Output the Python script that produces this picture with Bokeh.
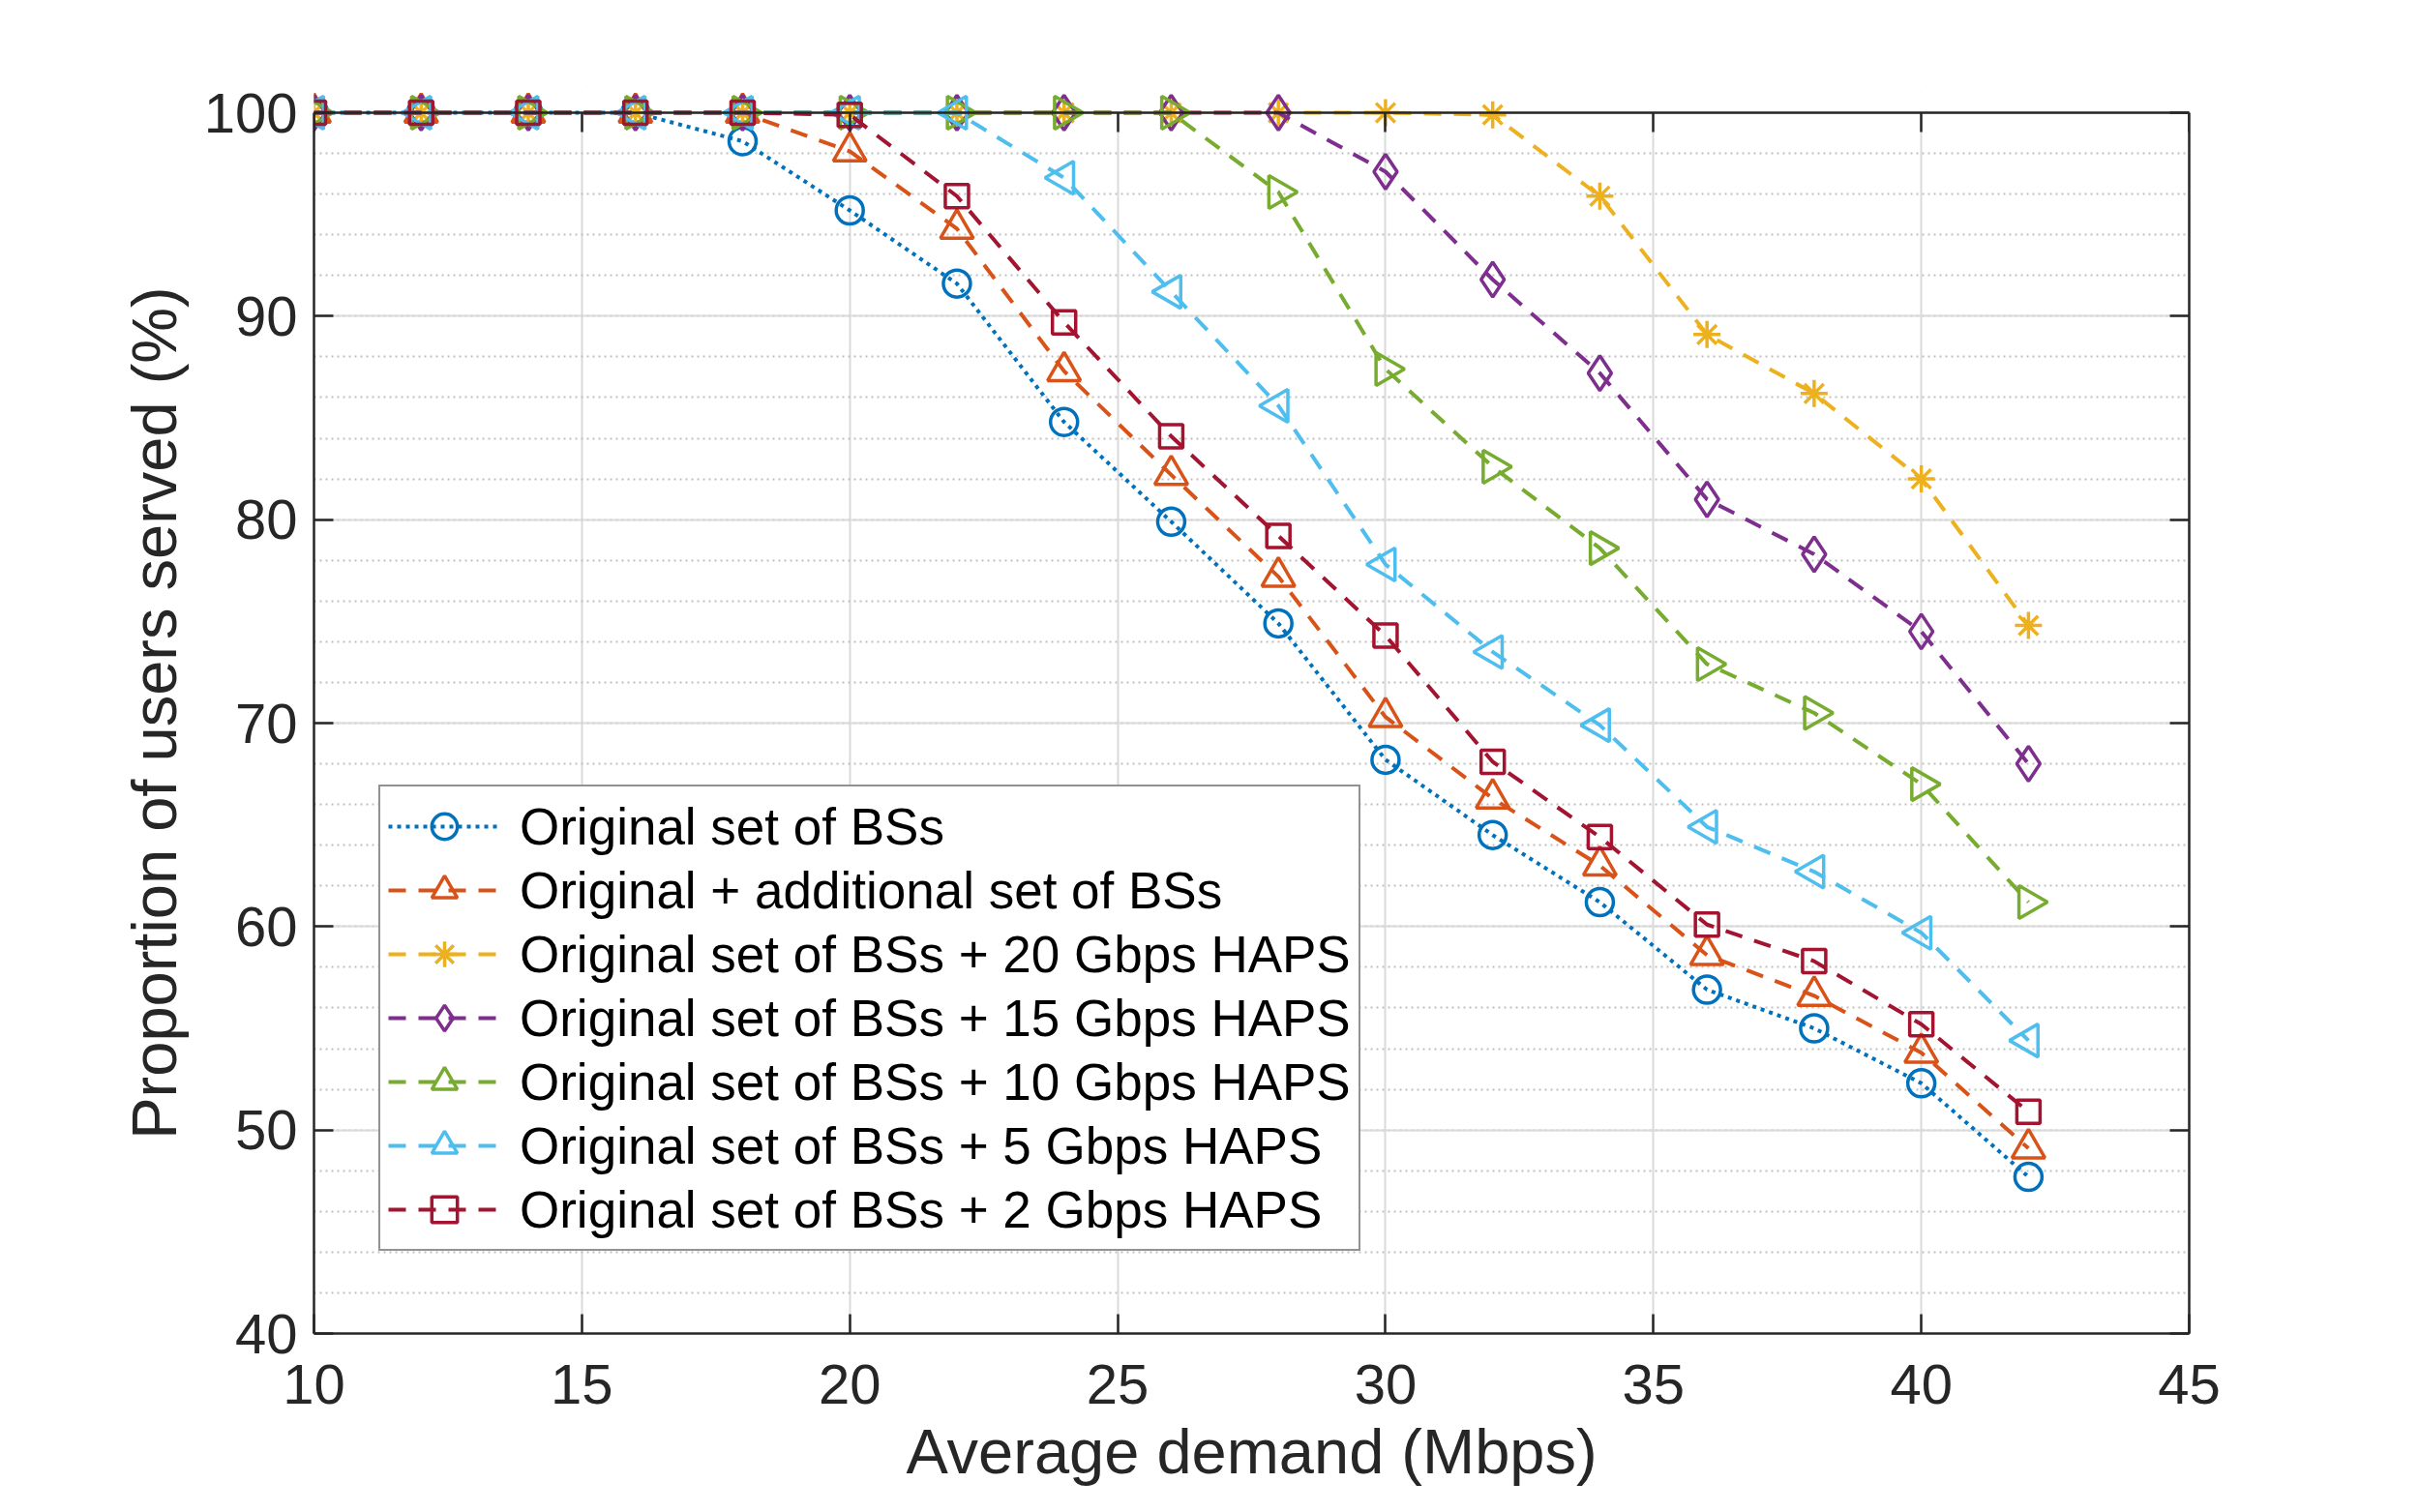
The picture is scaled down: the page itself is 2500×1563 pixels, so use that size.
from bokeh.plotting import figure
from bokeh.models import (LinearAxis, FixedTicker, Range1d, CustomJSTickFormatter, BoxAnnotation)
from bokeh.embed import file_html
from bokeh.resources import INLINE
import math

# ---------------- data ----------------
demand = [10, 12, 14, 16, 18, 20, 22, 24, 26, 28, 30, 32, 34, 36, 38, 40, 42]

original = [100, 100, 100, 100, 98.6, 95.2, 91.6, 84.8, 79.9, 74.9, 68.2, 64.5, 61.2, 56.9, 55.0, 52.3, 47.7]
orig_add = [100, 100, 100, 100, 100, 98.1, 94.3, 87.3, 82.2, 77.2, 70.3, 66.3, 63.0, 58.6, 56.6, 53.8, 49.1]
haps20 = [100, 100, 100, 100, 100, 100, 100, 100, 100, 100, 100, 99.9, 95.9, 89.1, 86.2, 82.0, 74.8]
haps15 = [100, 100, 100, 100, 100, 100, 100, 100, 100, 100, 97.1, 91.8, 87.2, 81.0, 78.3, 74.5, 68.0]
haps10 = [100, 100, 100, 100, 100, 100, 100, 100, 100, 96.1, 87.4, 82.6, 78.6, 72.9, 70.5, 67.0, 61.2]
haps5 = [100, 100, 100, 100, 100, 100, 100, 96.8, 91.2, 85.6, 77.8, 73.5, 69.9, 64.9, 62.7, 59.7, 54.4]
haps2 = [100, 100, 100, 100, 100, 99.9, 95.9, 89.7, 84.1, 79.2, 74.3, 68.1, 64.4, 60.1, 58.3, 55.2, 50.9]

labels = [
    "Original set of BSs",
    "Original + additional set of BSs",
    "Original set of BSs + 20 Gbps HAPS",
    "Original set of BSs + 15 Gbps HAPS",
    "Original set of BSs + 10 Gbps HAPS",
    "Original set of BSs + 5 Gbps HAPS",
    "Original set of BSs + 2 Gbps HAPS",
]
series = [original, orig_add, haps20, haps15, haps10, haps5, haps2]
colors = ["#0072BD", "#D95319", "#EDB120", "#7E2F8E", "#77AC30", "#4DBEEE", "#A2142F"]
markers = ["circle", "triangle", "asterisk", "diamond", "triangle", "triangle", "square"]
angles = [0, 0, 0, 0, -math.pi / 2, math.pi / 2, 0]
sizes = [28, 34, 28, 36, 34, 34, 24]
dashes = ["4 5", "18 13", "18 13", "18 13", "18 13", "18 13", "18 13"]

x_ticks = [10, 15, 20, 25, 30, 35, 40, 45]
y_ticks = [40, 50, 60, 70, 80, 90, 100]
y_minor = [v for v in range(40, 101, 2)]
y_min, y_max = 40, 100

FONT = "Liberation Sans"
AX = "#262626"

# frame is extended one unit above 100 so that markers on the top edge are not clipped
p = figure(width=2484, height=1547, output_backend="svg", toolbar_location=None,
           x_range=Range1d(10, 45), y_range=Range1d(y_min, y_max + 1.0),
           min_border_left=324, min_border_right=222, min_border_top=95, min_border_bottom=169,
           background_fill_color="white", border_fill_color="white")

p.outline_line_color = None

for ax in [p.xaxis[0], p.yaxis[0]]:
    ax.axis_line_color = AX
    ax.axis_line_width = 2.5
    ax.major_tick_line_color = AX
    ax.major_tick_line_width = 2.5
    ax.major_tick_in = 20
    ax.major_tick_out = 0
    ax.minor_tick_line_color = None
    ax.major_label_text_font = FONT
    ax.major_label_text_font_size = "58px"
    ax.major_label_text_color = AX
    ax.axis_label_text_font = FONT
    ax.axis_label_text_font_size = "65px"
    ax.axis_label_text_font_style = "normal"
    ax.axis_label_text_color = AX

p.xaxis[0].ticker = FixedTicker(ticks=x_ticks)
p.yaxis[0].ticker = FixedTicker(ticks=y_ticks, minor_ticks=y_minor)
p.yaxis[0].bounds = (y_min, y_max)
p.xaxis[0].axis_label = "Average demand (Mbps)"
p.yaxis[0].axis_label = "Proportion of users served (%)"
p.xaxis[0].major_label_standoff = 32
p.yaxis[0].major_label_standoff = 13
p.xaxis[0].axis_label_standoff = 10
p.yaxis[0].axis_label_standoff = 12

blank = CustomJSTickFormatter(code="return ''")
top = LinearAxis(ticker=FixedTicker(ticks=x_ticks), formatter=blank, fixed_location=y_max)
right = LinearAxis(ticker=FixedTicker(ticks=y_ticks), formatter=blank, bounds=(y_min, y_max))
for ax in [top, right]:
    ax.axis_line_color = AX
    ax.axis_line_width = 2.5
    ax.major_tick_line_color = AX
    ax.major_tick_line_width = 2.5
    ax.major_tick_in = 20
    ax.major_tick_out = 0
    ax.minor_tick_line_color = None
    ax.major_label_text_font_size = "1px"
p.add_layout(top, "above")
p.add_layout(right, "right")

p.xgrid.ticker = FixedTicker(ticks=x_ticks)
p.ygrid.ticker = FixedTicker(ticks=y_ticks, minor_ticks=y_minor)
p.xgrid.grid_line_color = "#dadada"
p.xgrid.grid_line_width = 2
p.ygrid.grid_line_color = "#dadada"
p.ygrid.grid_line_width = 2
p.ygrid.minor_grid_line_color = "#c0c0c0"
p.ygrid.minor_grid_line_width = 2
p.ygrid.minor_grid_line_dash = "2 4"

# white strip above the top edge (hides the grid there)
p.add_layout(BoxAnnotation(bottom=y_max, fill_color="white", fill_alpha=1.0,
                           line_color=None, level="underlay"))

for ys, lab, col, mk, ang, sz, ds in zip(series, labels, colors, markers, angles, sizes, dashes):
    p.line(demand, ys, line_color=col, line_width=4, line_dash=ds, legend_label=lab)
    p.scatter(demand, ys, marker=mk, angle=ang, size=sz, line_color=col, line_width=3.5,
              fill_color=None, legend_label=lab)

lg = p.legend[0]
lg.location = (67, 85)
lg.margin = 0
lg.padding = 8
lg.spacing = 0
lg.label_height = 66
lg.glyph_height = 66
lg.glyph_width = 116
lg.label_standoff = 20
lg.label_text_font = FONT
lg.label_text_font_size = "53px"
lg.label_text_color = "black"
lg.border_line_color = AX
lg.border_line_width = 2.5
lg.background_fill_color = "white"
lg.background_fill_alpha = 1.0

open("out.html", "w").write(file_html(p, INLINE))
